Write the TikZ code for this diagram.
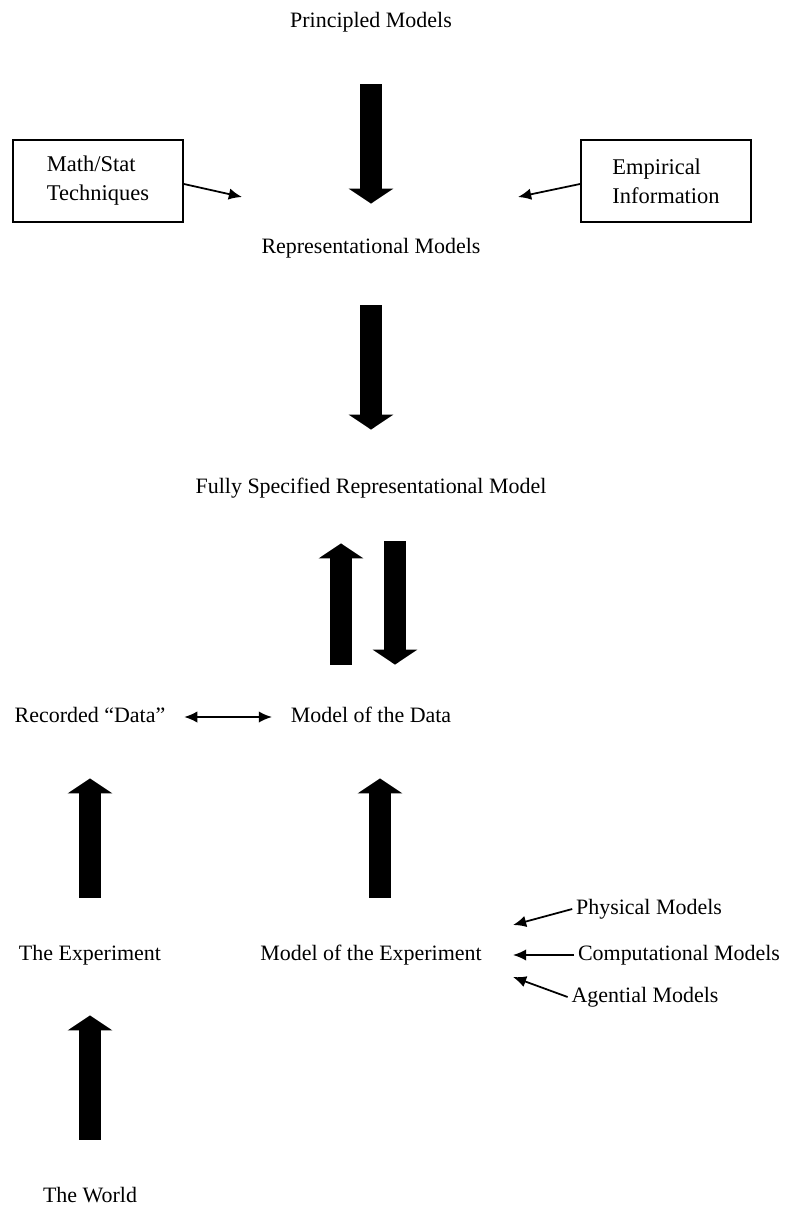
\documentclass[tikz,border=0pt]{standalone}
\usepackage{fontspec}
\setmainfont{Liberation Serif}
\usetikzlibrary{arrows.meta}

\begin{document}
\begin{tikzpicture}[x=0.02cm, y=-0.02cm,
  every node/.style={font=\fontsize{12.5}{15}\selectfont, inner sep=2pt, text height=9pt, text depth=3pt},
  infobox/.style={draw, line width=1.1pt, minimum width=3.4cm, minimum height=1.64cm, align=left, text height=, text depth=, font=\fontsize{12.8}{16.5}\selectfont},
  bigarrow/.style={line width=0.44cm, -{Triangle[width=0.88cm, length=0.3cm]}},
  thinarrow/.style={line width=1pt, -{Latex[length=7.5pt, width=6.5pt]}},
  bothways/.style={line width=1pt, {Latex[length=7.5pt, width=6.5pt]}-{Latex[length=7.5pt, width=6.5pt]}}]
  \useasboundingbox (0,0) rectangle (786,1210);

  \node (principled) at (371,22) {Principled Models};
  \node (repr) at (371,248) {Representational Models};
  \node (fullspec) at (371,488) {Fully Specified Representational Model};
  \node (recorded) at (90,717) {Recorded ``Data''};
  \node (modeldata) at (371,717) {Model of the Data};
  \node (experiment) at (90,955) {The Experiment};
  \node (modelexp) at (371,955) {Model of the Experiment};
  \node (world) at (90,1197) {The World};

  \node[infobox] (mathstat) at (98,181) {Math/Stat\\Techniques};
  \node[infobox] (empirical) at (666,181) {Empirical\\Information};

  \node (physical) at (649,909) {Physical Models};
  \node (computational) at (679,955) {Computational Models};
  \node (agential) at (645,997) {Agential Models};

  \coordinate (mathstatend) at (242,197);
  \coordinate (empiricalend) at (518,197);
  \coordinate (physicalend) at (513,925);
  \coordinate (computationalend) at (513,955);
  \coordinate (agentialend) at (513,977);

  % big arrows
  \draw[bigarrow, shorten <=0.96cm, shorten >=0.6cm] (principled) -- (repr);
  \draw[bigarrow, shorten <=0.86cm, shorten >=0.88cm] (repr) -- (fullspec);
  \draw[bigarrow, shorten <=0.76cm, shorten >=0.82cm] ([xshift=-0.6cm]modeldata.north) -- ([xshift=-0.6cm]fullspec.south);
  \draw[bigarrow, shorten <=0.78cm, shorten >=0.76cm] ([xshift=0.48cm]fullspec.south) -- ([xshift=0.48cm]modeldata.north);
  \draw[bigarrow, shorten <=0.86cm, shorten >=0.94cm] (experiment) -- (recorded);
  \draw[bigarrow, shorten <=0.86cm, shorten >=0.94cm] ([xshift=0.18cm]modelexp.north) -- ([xshift=0.18cm]modeldata.south);
  \draw[bigarrow, shorten <=0.86cm, shorten >=0.92cm] (world) -- (experiment);

  % small arrows
  \draw[thinarrow] ([yshift=-0.06cm]mathstat.east) -- (mathstatend);
  \draw[thinarrow] ([yshift=-0.06cm]empirical.west) -- (empiricalend);
  \draw[bothways, shorten <=0.3cm, shorten >=0.3cm] (recorded) -- (modeldata);
  \draw[thinarrow] (physical.west) -- (physicalend);
  \draw[thinarrow] (computational.west) -- (computationalend);
  \draw[thinarrow] (agential.west) -- (agentialend);
\end{tikzpicture}
\end{document}
